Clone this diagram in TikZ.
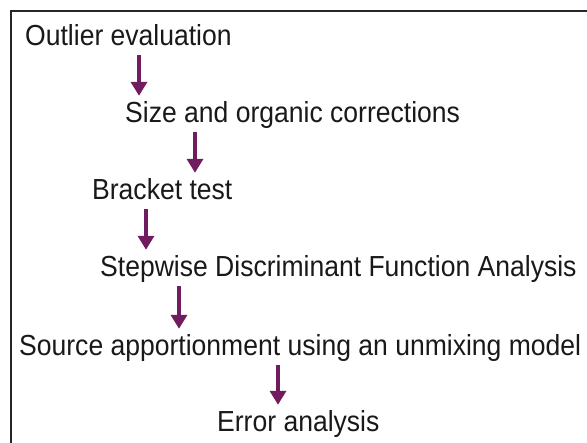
\documentclass[tikz,border=0pt]{standalone}
\usepackage{fontspec}
\setmainfont[FakeStretch=0.915]{Liberation Sans}
\usepackage{tikz}
\usetikzlibrary{arrows.meta}

\definecolor{stepplum}{RGB}{112,28,94}

\begin{document}
\begin{tikzpicture}[x=1pt, y=-1pt,
		steptext/.style={anchor=base west, inner xsep=0pt, inner ysep=4pt,
			text height=20pt, text depth=5pt, font=\fontsize{29}{35}\selectfont,
			text=black!90},
		flow/.style={-{Triangle[width=16pt, length=14pt]}, line width=4.5pt,
			stepplum, shorten >=3pt}]
			\useasboundingbox (0, 0) rectangle (587, 443);
			\clip (0, 0) rectangle (587, 443);

			% frame (runs off the right and bottom)
			\draw[line width=2, black!85]
				(600, 11) -| (11, 460);

			% steps
			\node[steptext] (outlier) at (25, 46)
				{Outlier evaluation};
			\node[steptext] (sizecorr) at (125, 123)
				{Size and organic corrections};
			\node[steptext] (bracket) at (92, 200)
				{Bracket test};
			\node[steptext] (sdfa) at (100, 277)
				{Stepwise Discriminant Function Analysis};
			\node[steptext] (unmix) at (19, 356)
				{Source apportionment using an unmixing model};
			\node[steptext] (error) at (217, 432)
				{Error analysis};

			% arrow columns
			\coordinate (c1) at (139, 0);
			\coordinate (c2) at (195, 0);
			\coordinate (c3) at (146, 0);
			\coordinate (c4) at (179, 0);
			\coordinate (c5) at (278, 0);

			\draw[flow]
				(outlier.south -| c1) -- (sizecorr.north -| c1);
			\draw[flow]
				(sizecorr.south -| c2) -- (bracket.north -| c2);
			\draw[flow]
				(bracket.south -| c3) -- (sdfa.north -| c3);
			\draw[flow]
				(sdfa.south -| c4) -- (unmix.north -| c4);
			\draw[flow]
				(unmix.south -| c5) -- (error.north -| c5);

		\end{tikzpicture}
\end{document}
